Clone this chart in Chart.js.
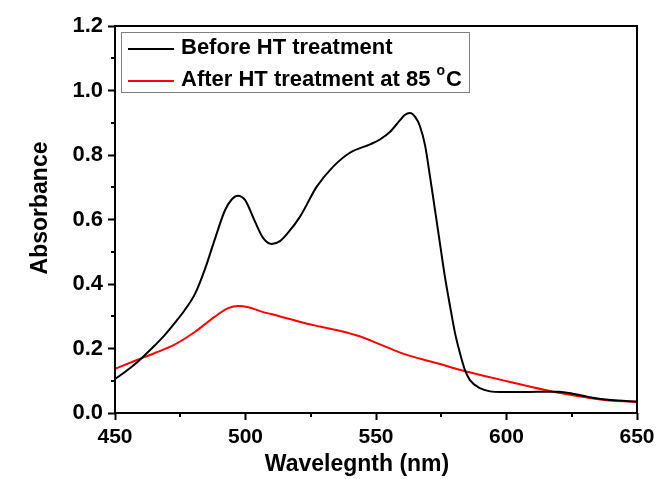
<!DOCTYPE html>
<html>
<head>
<meta charset="utf-8">
<script src="https://cdn.jsdelivr.net/npm/chart.js@4.4.1/dist/chart.umd.min.js"></script>
<style>
  html, body { margin: 0; padding: 0; background: #fff; }
  #wrap { width: 660px; height: 479px; }
</style>
</head>
<body>
<div id="wrap"><canvas id="absChart" width="660" height="479"></canvas></div>
<script>
// series
const beforeNm = [450, 453.8, 457.7, 461.5, 465.3, 469.2, 473, 476.8, 480.7, 484.5, 488.3, 492.1, 494.7, 497, 499.8, 503.6, 506.8, 510, 513.2, 516, 520.9, 527.3, 533.6, 540, 548, 551.5, 555.4, 559.2, 561, 563, 565, 566.8, 568.8, 570.7, 572.6, 574.5, 576.4, 578.4, 580.3, 582.2, 584.1, 586, 589.8, 593.7, 597.5, 605, 612, 620, 626, 633, 640, 650];
const beforeAbs = [0.105, 0.127, 0.152, 0.180, 0.210, 0.243, 0.280, 0.320, 0.370, 0.447, 0.540, 0.628, 0.662, 0.674, 0.661, 0.594, 0.542, 0.524, 0.533, 0.556, 0.609, 0.702, 0.764, 0.807, 0.834, 0.848, 0.872, 0.908, 0.924, 0.930, 0.918, 0.890, 0.830, 0.733, 0.630, 0.526, 0.423, 0.330, 0.247, 0.185, 0.133, 0.102, 0.077, 0.067, 0.065, 0.065, 0.066, 0.066, 0.059, 0.047, 0.040, 0.035];

const afterNm = [450, 457.7, 465.3, 473, 480.7, 488.3, 493.4, 497.2, 501.1, 505.6, 513, 521, 528.5, 536, 544, 551.5, 559, 567, 574.5, 582, 590, 601, 610, 618, 627, 636, 643, 650];
const afterAbs = [0.137, 0.162, 0.186, 0.213, 0.252, 0.299, 0.325, 0.332, 0.328, 0.316, 0.300, 0.282, 0.268, 0.255, 0.237, 0.213, 0.188, 0.168, 0.152, 0.134, 0.118, 0.097, 0.080, 0.066, 0.053, 0.042, 0.037, 0.035];

const seriesNames = ['Before HT treatment', 'After HT treatment at 85 '];
const seriesColors = ['#000000', '#ff0000'];

const xTicksMinor = [475, 525, 575, 625];
const yTicksMinor = [0.1, 0.3, 0.5, 0.7, 0.9, 1.1];

const FONT = '"Liberation Sans", Arial, sans-serif';

function toPoints(xs, ys) {
    return xs.map((x, i) => ({ x: x, y: ys[i] }));
}

// frame, minor ticks, axis titles, legend
const decorations = {
    id: 'decorations',
    afterDraw(chart) {
        const ctx = chart.ctx;
        const a = chart.chartArea;
        const xs = chart.scales.x;
        const ys = chart.scales.y;
        ctx.save();
        ctx.strokeStyle = '#000';
        ctx.lineWidth = 2;
        ctx.strokeRect(a.left, a.top, a.right - a.left, a.bottom - a.top);

        ctx.beginPath();
        xTicksMinor.forEach(v => {
            const px = Math.round(xs.getPixelForValue(v));
            ctx.moveTo(px, a.bottom);
            ctx.lineTo(px, a.bottom + 4);
        });
        yTicksMinor.forEach(v => {
            const py = Math.round(ys.getPixelForValue(v));
            ctx.moveTo(a.left, py);
            ctx.lineTo(a.left - 4, py);
        });
        ctx.stroke();

        // axis titles
        ctx.fillStyle = '#000';
        ctx.font = 'bold 23px ' + FONT;
        ctx.textAlign = 'center';
        ctx.textBaseline = 'middle';
        ctx.fillText('Wavelegnth (nm)', 357, 465);
        ctx.save();
        ctx.translate(41, 208);
        ctx.rotate(-Math.PI / 2);
        ctx.fillText('Absorbance', 0, 0);
        ctx.restore();

        // legend box
        const bx = a.left + 6, by = a.top + 6, bw = 348, bh = 60;
        ctx.fillStyle = '#fff';
        ctx.fillRect(bx, by, bw, bh);
        ctx.strokeStyle = '#808080';
        ctx.lineWidth = 1;
        ctx.strokeRect(bx + 0.5, by + 0.5, bw, bh);

        ctx.font = 'bold 22px ' + FONT;
        ctx.textAlign = 'left';
        const rows = [by + 17, by + 49];
        chart.data.datasets.forEach((ds, i) => {
            ctx.strokeStyle = ds.borderColor;
            ctx.lineWidth = 2;
            ctx.beginPath();
            ctx.moveTo(bx + 7, rows[i]);
            ctx.lineTo(bx + 53, rows[i]);
            ctx.stroke();
            ctx.fillStyle = '#000';
            const ty = rows[i] - 1;
            ctx.fillText(ds.label, bx + 60, ty);
            if (i === 1) {
                const w = ctx.measureText(ds.label).width;
                ctx.font = 'bold 14px ' + FONT;
                ctx.fillText('o', bx + 60 + w, ty - 9);
                const ow = ctx.measureText('o').width;
                ctx.font = 'bold 22px ' + FONT;
                ctx.fillText('C', bx + 60 + w + ow + 1, ty);
            }
        });
        ctx.restore();
    }
};

new Chart(document.getElementById('absChart'), {
    type: 'line',
    data: {
        datasets: [
            {
                label: seriesNames[0],
                data: toPoints(beforeNm, beforeAbs),
                borderColor: seriesColors[0],
                borderWidth: 2,
                pointRadius: 0,
                cubicInterpolationMode: 'monotone',
                fill: false
            },
            {
                label: seriesNames[1],
                data: toPoints(afterNm, afterAbs),
                borderColor: seriesColors[1],
                borderWidth: 2,
                pointRadius: 0,
                cubicInterpolationMode: 'monotone',
                fill: false
            }
        ]
    },
    options: {
        responsive: false,
        animation: false,
        layout: { padding: { left: 0, top: 26, right: 23, bottom: 0 } },
        plugins: {
            legend: { display: false },
            tooltip: { enabled: false }
        },
        scales: {
            x: {
                type: 'linear',
                min: 450,
                max: 650,
                afterFit: s => { s.height = 66; },
                border: { display: false },
                grid: { drawOnChartArea: false, drawTicks: true, tickLength: 7, tickColor: '#000', tickWidth: 2 },
                ticks: {
                    stepSize: 50,
                    color: '#000',
                    padding: 5,
                    font: { family: FONT, size: 21, weight: 'bold' }
                }
            },
            y: {
                min: 0,
                max: 1.2,
                afterFit: s => { s.width = 115; },
                border: { display: false },
                grid: { drawOnChartArea: false, drawTicks: true, tickLength: 7, tickColor: '#000', tickWidth: 2 },
                ticks: {
                    stepSize: 0.2,
                    color: '#000',
                    padding: 5,
                    font: { family: FONT, size: 22, weight: 'bold' },
                    callback: v => v.toFixed(1)
                }
            }
        }
    },
    plugins: [decorations]
});
</script>
</body>
</html>
